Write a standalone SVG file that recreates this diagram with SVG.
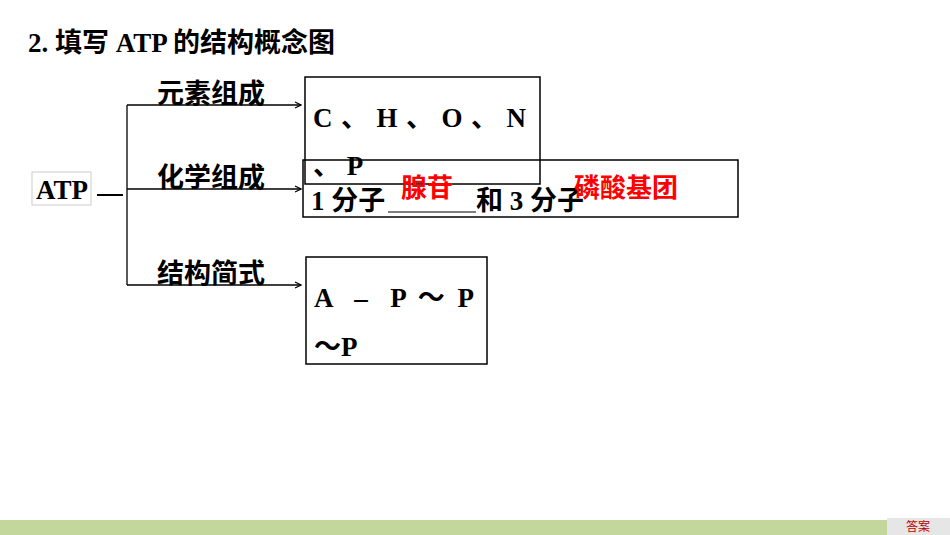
<svg xmlns="http://www.w3.org/2000/svg" width="950" height="535" viewBox="0 0 950 535">
<style>
.t{font-family:"Liberation Serif","Noto Sans CJK SC",serif;font-weight:bold;font-size:27px;fill:#000}
.c{font-family:"Noto Sans CJK SC",sans-serif;font-weight:bold;font-size:27px;fill:#000}
.r{font-family:"Noto Sans CJK SC",sans-serif;font-weight:bold;font-size:26px;fill:#ff0000}
.b{fill:none;stroke:#000;stroke-width:1.5}
.l{stroke:#000;stroke-width:1.3;fill:none}
</style>
<defs><marker id="a" markerWidth="8" markerHeight="8" refX="7" refY="4" orient="auto" markerUnits="userSpaceOnUse"><path d="M1,1 L7,4 L1,7" fill="none" stroke="#000" stroke-width="1.2"/></marker></defs>
<rect width="950" height="535" fill="#fff"/>
<text x="28" y="52" class="t" style="font-size:27px">2. 填写 ATP 的结构概念图</text>
<g id="atp"><rect x="32" y="172" width="59" height="33" fill="none" stroke="#ccc"/><text x="36" y="199" class="t">ATP</text><line x1="97" y1="195" x2="123" y2="195" stroke="#000" stroke-width="2"/></g>
<g id="connectors">
<line x1="127" y1="105" x2="127" y2="285" class="l"/>
<line x1="127" y1="105" x2="301" y2="105" class="l" marker-end="url(#a)"/>
<line x1="127" y1="189" x2="301" y2="189" class="l" marker-end="url(#a)"/>
<line x1="127" y1="285" x2="301" y2="285" class="l" marker-end="url(#a)"/>
</g>
<g id="lbl"><text x="157" y="103" class="c">元素组成</text><text x="157" y="187" class="c">化学组成</text><text x="157" y="283" class="c">结构简式</text></g>
<g id="box1"><rect x="305" y="77" width="235" height="107" class="b"/><text x="313" y="127" class="t" xml:space="preserve" textLength="213">C 、 H 、 O 、 N</text><text x="313" y="175" class="t" xml:space="preserve">、 P</text></g>
<g id="box2"><rect x="303" y="160" width="435" height="57" class="b"/><text x="311" y="210" class="t">1 分子</text><line x1="388" y1="212" x2="476" y2="212" stroke="#000" stroke-width="1"/><text x="476" y="210" class="t">和 3 分子</text><text x="401" y="197" class="r">腺苷</text><text x="574" y="197" class="r">磷酸基团</text></g>
<g id="box3"><rect x="306" y="257" width="181" height="107" class="b"/><text x="314" y="307" class="t" xml:space="preserve" textLength="160">A  –  P ～ P</text><text x="314" y="356" class="t">～P</text></g>
<rect x="0" y="520" width="887" height="15" fill="#c3d69b"/>
<rect x="887" y="518" width="63" height="17" fill="#e6e6e6"/>
<text x="918" y="531" text-anchor="middle" font-family="Noto Sans CJK SC,sans-serif" font-size="12" fill="#c00000">答案</text>
</svg>
